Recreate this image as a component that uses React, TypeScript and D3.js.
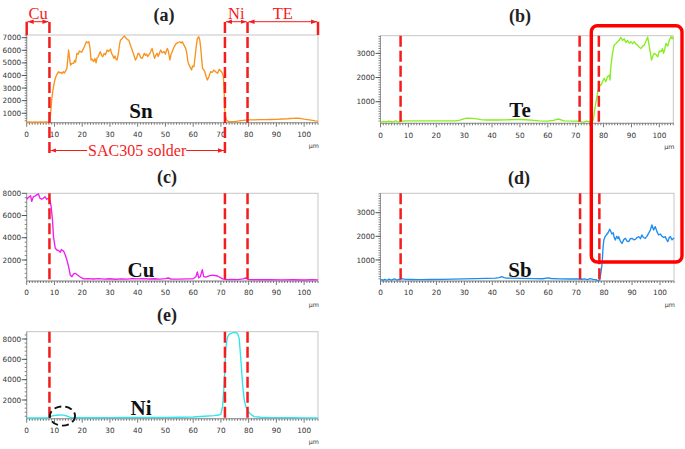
import * as d3 from 'd3';

type Pt = [number, number];

// x ticks shared by all five line scans (µm)
const X_TICKS = [0, 10, 20, 30, 40, 50, 60, 70, 80, 90, 100];

// (a) Sn
const SN: Pt[] = [
  [0, 300], [1, 310], [2, 300], [3, 305], [4, 295], [5, 310], [6, 300], [7, 305], [8, 300], [8.3, 320],
  [8.6, 900], [9, 2060], [9.5, 2900], [10, 3500], [10.3, 3780], [10.8, 4050], [11.5, 4300], [12, 4200],
  [12.4, 4250], [12.7, 4150], [13.2, 4300], [13.6, 4200], [14, 4350], [14.5, 4570], [15.1, 6020], [15.5, 5300],
  [15.8, 4830], [16.3, 4950], [16.9, 4970], [17.3, 5200], [17.6, 5050], [18.1, 5760], [18.6, 5700], [19, 5950],
  [19.3, 5890], [19.8, 5850], [20.5, 6150], [21, 6400], [21.5, 6680], [22, 6600], [22.4, 6680], [22.8, 6200],
  [23.2, 5230], [23.6, 5300], [24.1, 5100], [24.6, 5350], [25, 5000], [25.3, 5360], [25.8, 5500], [26.5, 5890],
  [27, 5600], [27.4, 5490], [27.9, 5750], [28.4, 5650], [29, 6020], [29.5, 5900], [30.2, 6100], [30.6, 5750],
  [31, 5600], [31.4, 5360], [31.8, 5550], [32.2, 5300], [32.6, 5230], [33, 5700], [33.5, 6500], [33.8, 6810],
  [34.3, 6900], [34.8, 7050], [35.2, 7130], [35.7, 7000], [36.3, 6850], [36.8, 6810], [37.4, 6400], [38, 6020],
  [38.5, 5700], [39.2, 5230], [39.6, 5400], [40.2, 5760], [40.6, 5700], [41, 5450], [41.6, 5360], [42, 5550],
  [42.4, 5760], [42.8, 5600], [43.2, 5700], [43.6, 5500], [44, 5630], [44.5, 5800], [45.2, 6150], [45.6, 5800],
  [46.1, 5360], [46.5, 5600], [47, 5760], [47.4, 5500], [47.9, 5800], [48.3, 6020], [48.8, 5800], [49.5, 5890],
  [50, 5700], [50.4, 6000], [50.7, 6150], [51.1, 5900], [51.6, 5230], [52, 5650], [52.7, 6020], [53.2, 6300],
  [53.9, 6550], [54.5, 6600], [55.2, 6680], [55.7, 6580], [56.1, 6680], [56.6, 6450], [57.3, 6150], [57.7, 5800],
  [58.1, 5100], [58.6, 4800], [59.4, 4440], [59.8, 4750], [60.3, 4700], [60.7, 5500], [61.1, 6280], [61.5, 6900],
  [62, 7080], [62.4, 6800], [62.8, 6020], [63.1, 5200], [63.4, 4570], [63.8, 4450], [64.2, 4300], [64.7, 3900],
  [65.1, 3640], [65.6, 3850], [66.3, 4300], [66.9, 4250], [67.5, 4440], [68, 4300], [68.4, 4250], [68.8, 4170],
  [69.4, 4490], [69.8, 4400], [70.2, 4300], [70.6, 4150], [70.9, 3900], [71.2, 2600], [71.4, 1260], [71.7, 700],
  [72, 470], [72.5, 370], [73, 340], [74, 330], [74.8, 340], [75.5, 360], [76.5, 390], [77.2, 420], [78, 440],
  [79, 460], [79.6, 470], [82, 480], [84, 490], [86, 495], [88, 505], [90, 515], [92, 540], [94, 560], [95, 580],
  [96, 590], [97, 605], [97.8, 600], [99, 570], [100, 530], [101, 500], [102, 470], [103, 440], [104, 400], [105, 380],
];

// (b) Te
const TE: Pt[] = [
  [0, 170], [0.5, 150], [1, 190], [1.5, 175], [2, 160], [2.5, 180], [3, 200], [3.5, 170], [4, 180], [4.5, 160],
  [5, 190], [5.5, 210], [6, 170], [6.5, 150], [7, 180], [7.5, 200], [9, 205], [12, 205], [15, 205], [20, 205],
  [25, 205], [27, 210], [28.5, 240], [30, 300], [31, 315], [33, 310], [34.5, 290], [36, 260], [38, 245], [42, 245],
  [45, 250], [48, 260], [50, 265], [52, 255], [55, 230], [57, 205], [60, 200], [62, 230], [63.8, 285], [65, 240],
  [66, 205], [70, 200], [71.3, 195], [72, 170], [72.7, 145], [73.3, 180], [74, 200], [74.5, 190], [75, 150],
  [75.7, 145], [76.3, 250], [76.8, 657], [77.3, 1000], [77.8, 1347], [78.2, 1550], [78.8, 1690], [79.2, 1700],
  [79.6, 1826], [80.2, 1967], [80.8, 1826], [81.4, 2033], [82, 2100], [82.3, 1900], [82.6, 2446], [83.2, 3000],
  [83.8, 3343], [84.4, 3400], [85, 3480], [85.6, 3550], [86.2, 3661], [86.8, 3530], [87.4, 3600], [88, 3450],
  [88.6, 3530], [89.2, 3420], [89.8, 3480], [90.4, 3400], [91, 3480], [91.6, 3380], [92.2, 3343], [92.8, 3250],
  [93.4, 3200], [94, 3300], [94.6, 3343], [95.2, 3500], [95.8, 3680], [96.4, 3280], [97.2, 2723], [97.7, 2900],
  [98.2, 3000], [98.8, 2950], [99.4, 2860], [100, 3100], [100.6, 3070], [101.1, 3200], [101.5, 3000], [102, 3200],
  [102.4, 3413], [103, 3300], [103.6, 3550], [104.2, 3690], [104.6, 3600], [105, 3680],
];

// (c) Cu
const CU: Pt[] = [
  [0, 7460], [0.5, 7600], [1, 7700], [1.4, 7780], [1.8, 7270], [2.4, 7700], [3, 7750], [3.6, 7860], [4.2, 7950],
  [4.8, 7560], [5.4, 7460], [6, 7560], [6.6, 7700], [7.2, 7460], [7.8, 7560], [8.4, 7380], [8.8, 6800], [9.3, 5600],
  [9.65, 4100], [10.3, 3050], [10.9, 2900], [11.5, 2850], [12.1, 2700], [12.5, 2950], [12.7, 2900], [13.3, 2800],
  [13.9, 2450], [14.5, 2000], [15.1, 1400], [15.7, 650], [16.3, 500], [16.9, 750], [17.5, 800], [18.3, 650],
  [19.3, 470], [20.5, 300], [22, 330], [24, 290], [26, 320], [28, 280], [30, 310], [32, 270], [34, 300], [36, 280],
  [38, 320], [40, 300], [42, 330], [44, 290], [46, 310], [48, 280], [50, 320], [51, 380], [52, 290], [55, 280],
  [58, 300], [60, 310], [61, 500], [61.5, 920], [62, 400], [62.6, 500], [63.3, 1130], [63.8, 500], [64.5, 450],
  [66, 600], [67, 640], [68.8, 560], [70.6, 300], [72, 230], [74, 250], [76, 240], [78, 300], [79, 380], [80, 240],
  [84, 220], [88, 230], [92, 210], [96, 220], [100, 200], [103, 230], [105, 210],
];

// (d) Sb
const SB: Pt[] = [
  [0, 150], [0.5, 170], [1, 140], [1.5, 180], [2, 160], [2.5, 150], [3, 190], [3.5, 170], [4, 150], [4.5, 175],
  [5, 200], [5.5, 170], [6, 150], [6.5, 180], [7, 160], [7.5, 210], [8, 200], [9, 180], [11, 175], [14, 170],
  [18, 175], [22, 180], [26, 190], [30, 200], [34, 210], [38, 220], [41, 230], [42.5, 250], [43.4, 294], [44.2, 250],
  [45, 230], [50, 220], [55, 210], [58, 205], [60, 240], [61, 215], [64, 200], [68, 195], [71, 200], [72, 185],
  [73, 200], [74, 170], [75, 210], [76, 180], [77, 170], [77.8, 130], [78.4, 150], [78.9, 500], [79.3, 860],
  [79.6, 1500], [79.9, 1845], [80.4, 2000], [80.8, 2057], [81.4, 2150], [82, 2300], [82.4, 2200], [82.8, 2100],
  [83.3, 2150], [83.6, 1950], [84, 1845], [84.5, 2000], [85, 1900], [85.2, 1986], [85.8, 1800], [86.4, 1700],
  [87, 1850], [87.6, 1916], [88.2, 1800], [88.8, 1775], [89.4, 1900], [90, 1916], [90.6, 1850], [91.2, 1870],
  [91.8, 1950], [92.4, 1986], [93, 1900], [93.5, 2057], [94.1, 1950], [94.7, 1916], [95.3, 2000], [95.9, 2127],
  [96.5, 2250], [97.1, 2480], [97.7, 2268], [98.3, 2410], [98.9, 2200], [99.5, 2057], [100.1, 2100], [100.7, 2000],
  [101.3, 1950], [101.9, 1986], [102.4, 1850], [102.8, 1775], [103.3, 1950], [103.7, 1986], [104.3, 1850],
  [104.9, 1916], [105, 1900],
];

// (e) Ni
const NI: Pt[] = [
  [0, 230], [2, 240], [4, 230], [6, 235], [7.8, 230], [8.4, 360], [9.65, 460], [11.5, 525], [13.3, 510],
  [14.5, 425], [15.7, 295], [16.9, 260], [20, 250], [25, 250], [30, 260], [35, 280], [40, 285], [45, 280],
  [50, 285], [55, 300], [60, 330], [64, 400], [67.5, 460], [69.3, 525], [70, 620], [70.6, 1340], [71.2, 3640],
  [71.8, 7240], [72.4, 8220], [73, 8450], [73.6, 8550], [74.2, 8600], [74.8, 8650], [75.4, 8620], [76, 8550],
  [76.6, 8060], [77.2, 5930], [77.8, 3640], [78.4, 2000], [79, 1340], [79.6, 1000], [80.2, 750], [80.8, 590],
  [82, 360], [84.4, 300], [88, 270], [92, 260], [96, 250], [100, 245], [105, 230],
];

// y tick labels per panel
const Y_TICKS_A = [1000, 2000, 3000, 4000, 5000, 6000, 7000];
const Y_TICKS_B = [1000, 2000, 3000];
const Y_TICKS_C = [2000, 4000, 6000, 8000];
const Y_TICKS_D = [1000, 2000, 3000];
const Y_TICKS_E = [2000, 4000, 6000, 8000];

// interface boundaries (µm), drawn as red dashed lines
const GUIDES_ACE = [8.2, 71.45, 79.6];
const GUIDES_BD = [7.2, 71.4, 78.3];

const RED = '#f41c1c';
const SERIF = '"Liberation Serif", "Times New Roman", serif';
const SANS = '"DejaVu Sans", Verdana, sans-serif';

interface PanelSpec {
  title: string; titleX: number; titleY: number;
  left: number; top: number; width: number; height: number;
  yDomain: [number, number]; yTicks: number[]; yMinor: number;
  data: Pt[]; color: string; guides: number[];
  element: string; elemX: number; elemY: number;
}

const PANELS: PanelSpec[] = [
  { title: '(a)', titleX: 164, titleY: 21, left: 26.7, top: 35, width: 291.3, height: 87.7,
    yDomain: [250, 7215], yTicks: Y_TICKS_A, yMinor: 200, data: SN, color: '#f7931e', guides: GUIDES_ACE,
    element: 'Sn', elemX: 141, elemY: 118 },
  { title: '(b)', titleX: 520, titleY: 22, left: 380.5, top: 35.7, width: 292.8, height: 87.6,
    yDomain: [107, 3730], yTicks: Y_TICKS_B, yMinor: 100, data: TE, color: '#86ee1e', guides: GUIDES_BD,
    element: 'Te', elemX: 520, elemY: 117 },
  { title: '(c)', titleX: 167, titleY: 183, left: 26.7, top: 193.3, width: 291.3, height: 87.7,
    yDomain: [110, 8000], yTicks: Y_TICKS_C, yMinor: 400, data: CU, color: '#f01df0', guides: GUIDES_ACE,
    element: 'Cu', elemX: 141, elemY: 277 },
  { title: '(d)', titleX: 519, titleY: 184, left: 380.5, top: 193.3, width: 293.5, height: 87.7,
    yDomain: [110, 3820], yTicks: Y_TICKS_D, yMinor: 100, data: SB, color: '#1e8cf0', guides: GUIDES_BD,
    element: 'Sb', elemX: 520, elemY: 277 },
  { title: '(e)', titleX: 167, titleY: 321, left: 26.7, top: 331.7, width: 291.3, height: 87,
    yDomain: [160, 8720], yTicks: Y_TICKS_E, yMinor: 400, data: NI, color: '#30e4ee', guides: GUIDES_ACE,
    element: 'Ni', elemX: 141, elemY: 415 },
];

const xScaleFor = (p: PanelSpec) => d3.scaleLinear().domain([0, 105]).range([p.left, p.left + p.width]);

function Panel({ p, extended }: { p: PanelSpec; extended?: boolean }) {
  const x = xScaleFor(p);
  const y = d3.scaleLinear().domain(p.yDomain).range([p.top + p.height, p.top]);
  const line = d3.line<Pt>().x(d => x(d[0])).y(d => y(d[1]));
  const bottom = p.top + p.height;
  const right = p.left + p.width;
  const minorX = d3.range(0, 105.5, 1);
  const minorY = d3.range(Math.ceil(p.yDomain[0] / p.yMinor) * p.yMinor, p.yDomain[1], p.yMinor);

  // panel (a) carries the layer brackets, so its dashed lines run past the plot
  const guideExtent = (i: number): [number, number] => {
    if (!extended) return [p.top, bottom];
    return i < 2 ? [22, 157] : [22, bottom];
  };

  return (
    <g>
      <rect x={p.left} y={p.top} width={p.width} height={p.height} fill="none" stroke="#c6c6c6" strokeWidth={1} />
      <line x1={p.left} x2={p.left} y1={p.top} y2={bottom} stroke="#9a9a9a" />
      <line x1={p.left} x2={right} y1={bottom} y2={bottom} stroke="#9a9a9a" />
      {minorX.map(v => (
        <line key={'mx' + v} x1={x(v)} x2={x(v)} y1={bottom} y2={bottom + (v % 10 === 0 ? 4 : 2)}
          stroke="#555" strokeWidth={0.8} />
      ))}
      {minorY.map(v => (
        <line key={'my' + v} x1={p.left - 2} x2={p.left} y1={y(v)} y2={y(v)} stroke="#666" strokeWidth={0.8} />
      ))}
      {p.yTicks.map(v => (
        <g key={'yt' + v}>
          <line x1={p.left - 5} x2={p.left} y1={y(v)} y2={y(v)} stroke="#444" strokeWidth={0.9} />
          <text x={p.left - 5.5} y={y(v)} dy="0.35em" textAnchor="end" fontFamily={SANS} fontSize={7.3} fill="#333">{v}</text>
        </g>
      ))}
      {X_TICKS.map(v => (
        <text key={'xt' + v} x={x(v)} y={bottom + 14.3} textAnchor="middle" fontFamily={SANS} fontSize={7.3} fill="#333">{v}</text>
      ))}
      <text x={right + 1} y={bottom + 25.5} textAnchor="end" fontFamily={SANS} fontSize={6.3} fill="#333">µm</text>
      <path d={line(p.data) ?? ''} fill="none" stroke={p.color} strokeWidth={1.35} strokeLinejoin="round" />
      {p.guides.map((g, i) => {
        const [y1, y2] = guideExtent(i);
        return <line key={'g' + i} x1={x(g)} x2={x(g)} y1={y1} y2={y2} stroke={RED} strokeWidth={2.5} strokeDasharray="11,4" />;
      })}
      <text x={p.titleX} y={p.titleY} textAnchor="middle" fontFamily={SERIF} fontWeight="bold" fontSize={18} fill="#222">{p.title}</text>
      <text x={p.elemX} y={p.elemY} textAnchor="middle" fontFamily={SERIF} fontWeight="bold" fontSize={21} fill="#111">{p.element}</text>
    </g>
  );
}

function LayerBrackets({ p }: { p: PanelSpec }) {
  const x = xScaleFor(p);
  const [cuEnd, niStart, niEnd] = p.guides;
  const ya = 21.7;
  const ys = 150.5;
  const mid = (x(cuEnd) + x(niStart)) / 2;
  const arrow = (x1: number, x2: number, yy: number, key: string, start = true, end = true) => (
    <line key={key} x1={x1} x2={x2} y1={yy} y2={yy} stroke={RED} strokeWidth={1}
      markerStart={start ? 'url(#arrowL)' : undefined} markerEnd={end ? 'url(#arrowR)' : undefined} />
  );
  return (
    <g>
      <line x1={x(0)} x2={x(0)} y1={ya} y2={p.top} stroke={RED} strokeWidth={2.5} />
      <line x1={x(105)} x2={x(105)} y1={ya} y2={p.top} stroke={RED} strokeWidth={2.5} />
      {arrow(x(0) + 1, x(cuEnd) - 1, ya, 'cu')}
      {arrow(x(niStart) + 1, x(niEnd) - 1, ya, 'ni')}
      {arrow(x(niEnd) + 1, x(105) - 1, ya, 'te')}
      <text x={(x(0) + x(cuEnd)) / 2} y={19} textAnchor="middle" fontFamily={SERIF} fontSize={16.5} fill={RED}>Cu</text>
      <text x={(x(niStart) + x(niEnd)) / 2} y={19} textAnchor="middle" fontFamily={SERIF} fontSize={16.5} fill={RED}>Ni</text>
      <text x={(x(niEnd) + x(105)) / 2} y={19} textAnchor="middle" fontFamily={SERIF} fontSize={16.5} fill={RED}>TE</text>
      {arrow(x(cuEnd) + 1, mid - 50, ys, 'sl', true, false)}
      {arrow(mid + 49, x(niStart) - 1, ys, 'sr', false, true)}
      <text x={mid} y={156} textAnchor="middle" fontFamily={SERIF} fontSize={16} fill={RED}>SAC305 solder</text>
    </g>
  );
}

export default function App() {
  const [a, b, c, d, e] = PANELS;
  const xe = xScaleFor(e);
  return (
    <svg width={685} height={449} style={{ position: 'absolute', left: 0, top: 0, background: '#fff' }}>
      <defs>
        <marker id="arrowR" viewBox="0 0 8 6" refX={8} refY={3} markerWidth={6} markerHeight={4.5}
          markerUnits="userSpaceOnUse" orient="auto">
          <path d="M0,0 L8,3 L0,6 Z" fill={RED} />
        </marker>
        <marker id="arrowL" viewBox="0 0 8 6" refX={0} refY={3} markerWidth={6} markerHeight={4.5}
          markerUnits="userSpaceOnUse" orient="auto">
          <path d="M8,0 L0,3 L8,6 Z" fill={RED} />
        </marker>
      </defs>
      <rect width={685} height={449} fill="#fff" />
      <Panel p={a} extended />
      <LayerBrackets p={a} />
      <Panel p={b} />
      <Panel p={c} />
      <Panel p={d} />
      <Panel p={e} />
      {/* highlight box around the TE region of Te and Sb */}
      <rect x={591.3} y={25.7} width={90.7} height={236.3} rx={6} fill="none" stroke="#f00" strokeWidth={3.4} />
      {/* Ni enrichment near the Cu interface */}
      <ellipse cx={xe(12.9)} cy={416} rx={12.6} ry={9.6} fill="none" stroke="#111" strokeWidth={1.9} strokeDasharray="7,4" />
    </svg>
  );
}
